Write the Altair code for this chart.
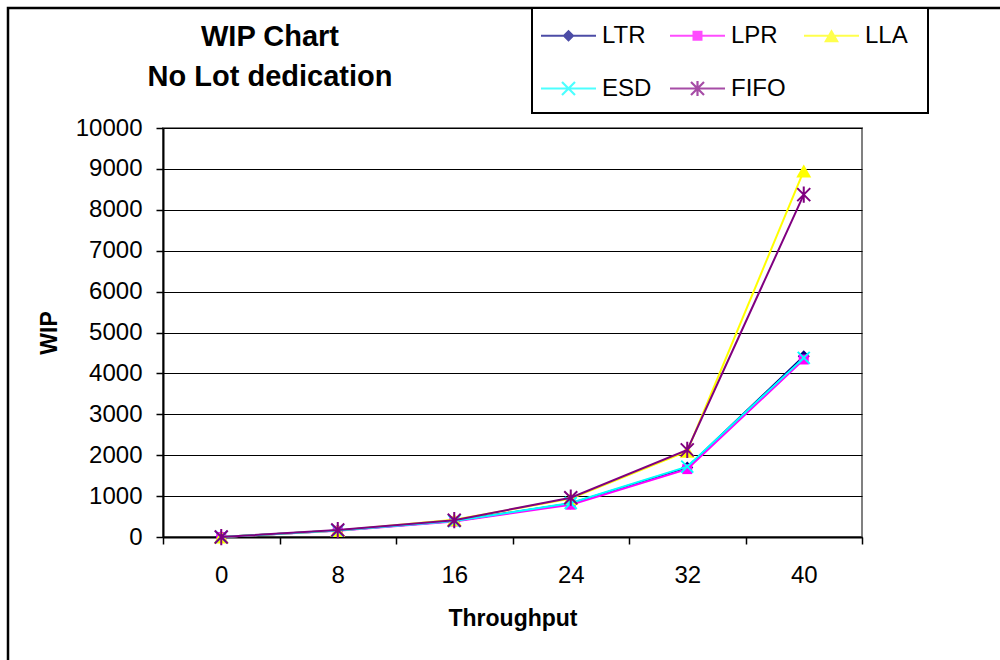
import math
import altair as alt
import pandas as pd

# ---- data -------------------------------------------------------------
throughput = [0, 8, 16, 24, 32, 40]
series_names = ["LTR", "LPR", "LLA", "ESD", "FIFO"]
wip_ltr = [0, 160, 390, 820, 1700, 4420]
wip_lpr = [0, 150, 380, 790, 1660, 4340]
wip_lla = [0, 160, 420, 940, 2100, 8950]
wip_esd = [0, 160, 390, 830, 1720, 4380]
wip_fifo = [0, 170, 410, 960, 2130, 8370]
series_colors = ["#000080", "#FF00FF", "#FFFF00", "#00FFFF", "#800080"]
y_ticks = list(range(0, 10001, 1000))
x_tick_values = list(range(-4, 45, 4))

series_values = [wip_ltr, wip_lpr, wip_lla, wip_esd, wip_fifo]
rows = []
for name, vals in zip(series_names, series_values):
    for t, v in zip(throughput, vals):
        rows.append({"series": name, "throughput": t, "wip": v})
df = pd.DataFrame(rows)

FONT = "Liberation Sans"

# ---- marker shapes for the plot (unit paths, scaled by size) ----------
marker_specs = {
    "LTR": dict(shape="M0,-1L1,0L0,1L-1,0Z", size=144, filled=True),
    "LPR": dict(shape="M-1,-1H1V1H-1Z", size=100, filled=True),
    "LLA": dict(shape="M0,-0.87L1,0.87H-1Z", size=225, filled=True),
    "ESD": dict(shape="M-1,-1L1,1M1,-1L-1,1", size=144, filled=False),
    "FIFO": dict(shape="M-1,-1L1,1M1,-1L-1,1M0,-1.25V1.25", size=169, filled=False),
}


# ---- legend symbols: line segment plus marker, built as filled polygons --
def _orient(pts):
    area = sum(pts[i][0] * pts[(i + 1) % len(pts)][1] - pts[(i + 1) % len(pts)][0] * pts[i][1]
               for i in range(len(pts)))
    return pts if area > 0 else pts[::-1]


def _poly_path(polys):
    out = []
    for p in polys:
        p = _orient(p)
        out.append("M" + "L".join(f"{x:.4f},{y:.4f}" for x, y in p) + "Z")
    return "".join(out)


def _seg(ax, ay, bx, by, t):
    dx, dy = bx - ax, by - ay
    n = math.hypot(dx, dy)
    nx, ny = -dy / n * t, dx / n * t
    return [(ax + nx, ay + ny), (bx + nx, by + ny), (bx - nx, by - ny), (ax - nx, ay - ny)]


U = 27.5  # pixels per legend path unit
bar = [(-1, -1.1 / U), (1, -1.1 / U), (1, 1.1 / U), (-1, 1.1 / U)]
d = 6 / U
sq = 5 / U
tw, th = 7.5 / U, 6.5 / U
xs = 6.5 / U
st = 1.1 / U
legend_paths = [
    _poly_path([bar, [(0, -d), (d, 0), (0, d), (-d, 0)]]),
    _poly_path([bar, [(-sq, -sq), (sq, -sq), (sq, sq), (-sq, sq)]]),
    _poly_path([bar, [(0, -th), (tw, th), (-tw, th)]]),
    _poly_path([bar, _seg(-xs, -xs, xs, xs, st), _seg(xs, -xs, -xs, xs, st)]),
    _poly_path([bar, _seg(-xs, -xs, xs, xs, st), _seg(xs, -xs, -xs, xs, st),
                _seg(0, -xs * 1.15, 0, xs * 1.15, st)]),
]

# ---- shared encodings --------------------------------------------------
x_enc = alt.X(
    "throughput:Q",
    scale=alt.Scale(domain=[-4, 44], nice=False, zero=False),
    axis=alt.Axis(
        values=x_tick_values,
        labelExpr="datum.value % 8 == 0 ? datum.label : ''",
        tickColor={"condition": {"test": "datum.value % 8 == 0", "value": "transparent"},
                   "value": "black"},
        tickSize=7,
        tickWidth=1.5,
        grid=False,
        domainColor="black",
        domainWidth=2,
        labelFont=FONT,
        labelFontSize=24,
        labelColor="black",
        labelPadding=19,
        title="Throughput",
        titleFont=FONT,
        titleFontSize=23,
        titleFontWeight="bold",
        titleColor="black",
        titlePadding=20,
    ),
)
y_enc = alt.Y(
    "wip:Q",
    scale=alt.Scale(domain=[0, 10000], nice=False),
    axis=alt.Axis(
        values=y_ticks,
        format="d",
        grid=True,
        gridColor="black",
        gridWidth=1,
        tickColor="black",
        tickSize=7,
        tickWidth=1.5,
        domainColor="black",
        domainWidth=2,
        labelFont=FONT,
        labelFontSize=24,
        labelColor="black",
        labelPadding=14,
        title="WIP",
        titleFont=FONT,
        titleFontSize=23,
        titleFontWeight="bold",
        titleColor="black",
        titlePadding=14,
    ),
)

base = alt.Chart(df)
one = alt.Chart(pd.DataFrame({"k": [0]}))

# outer frame and legend box
frame = one.mark_rect(fill="transparent", stroke="black", strokeWidth=2.5).encode(
    x=alt.value(-155), x2=alt.value(900), y=alt.value(-120), y2=alt.value(600)
)
legend_box = one.mark_rect(fill="white", stroke="black", strokeWidth=2).encode(
    x=alt.value(369), x2=alt.value(765), y=alt.value(-120), y2=alt.value(-15)
)

layers = [frame, legend_box]
for name, color in zip(series_names, series_colors):
    sub = base.transform_filter(alt.datum.series == name)
    layers.append(sub.mark_line(color=color, strokeWidth=2).encode(x=x_enc, y=y_enc))
    spec = marker_specs[name]
    if spec["filled"]:
        pts = sub.mark_point(shape=spec["shape"], size=spec["size"], filled=True,
                             color=color, opacity=1)
    else:
        pts = sub.mark_point(shape=spec["shape"], size=spec["size"], filled=False,
                             color=color, strokeWidth=2, opacity=1)
    layers.append(pts.encode(x=x_enc, y=y_enc))

# legend carrier: rows with no WIP value draw nothing but keep the legend
legend_df = pd.DataFrame({"series": series_names, "throughput": [0] * 5,
                          "wip": [float("nan")] * 5})
legend_def = alt.Legend(
    orient="none",
    direction="horizontal",
    legendX=378,
    legendY=-120,
    columns=3,
    title=None,
    symbolSize=3025,
    symbolStrokeWidth=0,
    labelFont=FONT,
    labelFontSize=24,
    labelColor="black",
    labelOffset=6,
    columnPadding=18,
    rowPadding=13,
    padding=0,
)
legend_layer = alt.Chart(legend_df).mark_point(filled=True).encode(
    x=x_enc,
    y=y_enc,
    color=alt.Color("series:N", scale=alt.Scale(domain=series_names, range=series_colors),
                    legend=legend_def),
    shape=alt.Shape("series:N", scale=alt.Scale(domain=series_names, range=legend_paths),
                    legend=legend_def),
)
layers.append(legend_layer)

title1 = one.mark_text(text="WIP Chart", font=FONT, fontSize=29, fontWeight="bold",
                       color="black", align="center", baseline="middle").encode(
    x=alt.value(107), y=alt.value(-91))
title2 = one.mark_text(text="No Lot dedication", font=FONT, fontSize=29, fontWeight="bold",
                       color="black", align="center", baseline="middle").encode(
    x=alt.value(107), y=alt.value(-51))
layers += [title1, title2]

chart = alt.layer(*layers).properties(
    width=699,
    height=409,
    autosize=alt.AutoSizeParams(type="none"),
    padding={"left": 163, "top": 128, "right": 138, "bottom": 123},
    background="white",
).configure_view(stroke="#808080", strokeWidth=2)

chart.save("out.html", embed_options={"renderer": "svg", "actions": False})
